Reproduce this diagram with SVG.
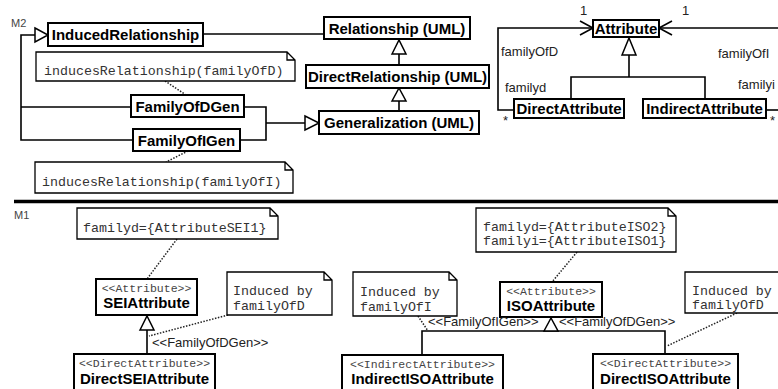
<svg xmlns="http://www.w3.org/2000/svg" width="778" height="389" viewBox="0 0 778 389">
  <style>
    .box { fill: #fff; stroke: #000; stroke-width: 2; }
    .note { fill: #fff; stroke: #000; stroke-width: 1.3; }
    .ln { fill: none; stroke: #000; stroke-width: 1.6; }
    .dot { fill: none; stroke: #222; stroke-width: 1.5; stroke-dasharray: 1.5 1.5; }
    .tri { fill: #fff; stroke: #000; stroke-width: 1.5; }
    .vee { fill: none; stroke: #000; stroke-width: 1.6; }
    .name { font-family: "Liberation Sans", Arial, sans-serif; font-weight: bold; font-size: 15px; fill: #000; }
    .lbl { font-family: "Liberation Sans", Arial, sans-serif; font-size: 13px; fill: #222; }
    .mono { font-family: "Liberation Mono", "Courier New", monospace; font-size: 13.3px; fill: #333; }
    .st { font-family: "Liberation Mono", "Courier New", monospace; font-size: 11.5px; fill: #444; }
    .lvl { font-family: "Liberation Sans", Arial, sans-serif; font-size: 11px; fill: #444; }
  </style>

  <!-- level labels and separator -->
  <text class="lvl" x="11" y="27">M2</text>
  <text class="lvl" x="14" y="219">M1</text>
  <line x1="14" y1="201.5" x2="778" y2="201.5" stroke="#000" stroke-width="3.5"/>

  <!-- connectors -->
  <g id="connectors">
    <!-- M2: induced relationship frame -->
    <path class="ln" d="M35 35 H21 V140 H133 M21 107 H131"/>
    <polygon class="tri" points="35,28 48,35 35,42"/>
    <path class="ln" d="M203 34 H323"/>
    <path class="ln" d="M244 107 H266 V140 H240 M266 123 H305"/>
    <polygon class="tri" points="305,116 319,123 305,130"/>
    <path class="ln" d="M399 110 V101 M399 65 V54"/>
    <polygon class="tri" points="392,101 399,88 406,101"/>
    <polygon class="tri" points="392,54 399,40 406,54"/>
    <path class="dot" d="M165 81 L186 95"/>
    <path class="dot" d="M188 151 L166 162"/>

    <!-- M2: attribute model -->
    <path class="ln" d="M514 110 H498 V28 H593"/>
    <path class="vee" d="M580 21 L593 28 L580 35"/>
    <path class="ln" d="M659 28 H778"/>
    <path class="vee" d="M672 21 L659 28 L672 35"/>
    <path class="ln" d="M766 110 H778"/>
    <path class="ln" d="M629 55 V77 M571 99 V77 H705 V99"/>
    <polygon class="tri" points="622,55 629,38 636,55"/>

    <!-- M1: SEI generalization -->
    <path class="ln" d="M147 354 V330"/>
    <polygon class="tri" points="140,330 147,316 154,330"/>
    <path class="dot" d="M177 239 L147 279"/>
    <path class="dot" d="M228 315 L149 336"/>

    <!-- M1: ISO generalizations -->
    <path class="ln" d="M422 355 V331 H665 V354 M551 331 V330"/>
    <polygon class="tri" points="544,331 551,318 558,331"/>
    <path class="dot" d="M577 252 L552 282"/>
    <path class="dot" d="M418 316 L428 331"/>
    <path class="dot" d="M737 313 L667 346"/>
  </g>

  <!-- M2 nodes -->
  <g id="InducedRelationship">
    <rect class="box" x="48" y="23" width="155" height="23"/>
    <text class="name" x="125.5" y="40" text-anchor="middle">InducedRelationship</text>
  </g>
  <g id="RelationshipUML">
    <rect class="box" x="324" y="17" width="146" height="22"/>
    <text class="name" x="397" y="34" text-anchor="middle">Relationship (UML)</text>
  </g>
  <g id="DirectRelationshipUML">
    <rect class="box" x="306" y="65" width="183" height="23"/>
    <text class="name" x="397.5" y="82" text-anchor="middle">DirectRelationship (UML)</text>
  </g>
  <g id="GeneralizationUML">
    <rect class="box" x="319" y="111" width="160" height="23"/>
    <text class="name" x="399" y="128" text-anchor="middle">Generalization (UML)</text>
  </g>
  <g id="FamilyOfDGen">
    <rect class="box" x="131" y="95" width="113" height="22"/>
    <text class="name" x="187.5" y="112" text-anchor="middle">FamilyOfDGen</text>
  </g>
  <g id="FamilyOfIGen">
    <rect class="box" x="133" y="129" width="107" height="22"/>
    <text class="name" x="186.5" y="146" text-anchor="middle">FamilyOfIGen</text>
  </g>
  <g id="noteFamilyOfD">
    <path class="note" d="M36 52 H287 L295 60 V81 H36 Z M287 52 V60 H295"/>
    <text class="mono" x="44" y="75">inducesRelationship(familyOfD)</text>
  </g>
  <g id="noteFamilyOfI">
    <path class="note" d="M35 162 H285 L293 170 V193 H35 Z M285 162 V170 H293"/>
    <text class="mono" x="42" y="186">inducesRelationship(familyOfI)</text>
  </g>

  <g id="Attribute">
    <rect class="box" x="593" y="20" width="66" height="17"/>
    <text class="name" x="626" y="34" text-anchor="middle">Attribute</text>
  </g>
  <g id="DirectAttribute">
    <rect class="box" x="514" y="99" width="110" height="19"/>
    <text class="name" x="569" y="114" text-anchor="middle">DirectAttribute</text>
  </g>
  <g id="IndirectAttribute">
    <rect class="box" x="643" y="99" width="123" height="19"/>
    <text class="name" x="704.5" y="114" text-anchor="middle">IndirectAttribute</text>
  </g>
  <g id="associationLabels">
    <text class="lbl" x="580" y="15" font-size="12">1</text>
    <text class="lbl" x="682" y="15" font-size="12">1</text>
    <text class="lbl" x="501" y="56">familyOfD</text>
    <text class="lbl" x="505" y="92">familyd</text>
    <text class="lbl" x="503" y="125" font-size="11">*</text>
    <text class="lbl" x="718" y="58">familyOfI</text>
    <text class="lbl" x="738" y="89">familyi</text>
    <text class="lbl" x="770" y="125" font-size="11">*</text>
  </g>

  <!-- M1 nodes -->
  <g id="noteSEI">
    <path class="note" d="M77 208 H270 L278 216 V239 H77 Z M270 208 V216 H278"/>
    <text class="mono" x="83" y="232">familyd={AttributeSEI1}</text>
  </g>
  <g id="SEIAttribute">
    <rect class="box" x="96" y="279" width="101" height="36"/>
    <text class="st" x="146.5" y="292" text-anchor="middle">&lt;&lt;Attribute&gt;&gt;</text>
    <text class="name" x="146.5" y="308" text-anchor="middle">SEIAttribute</text>
  </g>
  <g id="noteInducedD1">
    <path class="note" d="M227 272 H324 L332 280 V315 H227 Z M324 272 V280 H332"/>
    <text class="mono" x="233" y="295">Induced by</text>
    <text class="mono" x="233" y="310">familyOfD</text>
  </g>
  <text class="lbl" x="152" y="347">&lt;&lt;FamilyOfDGen&gt;&gt;</text>
  <g id="DirectSEIAttribute">
    <rect class="box" x="74" y="354" width="141" height="40"/>
    <text class="st" x="144.5" y="367" text-anchor="middle">&lt;&lt;DirectAttribute&gt;&gt;</text>
    <text class="name" x="144.5" y="384" text-anchor="middle">DirectSEIAttribute</text>
  </g>

  <g id="noteInducedI">
    <path class="note" d="M353 272 H449 L457 280 V316 H353 Z M449 272 V280 H457"/>
    <text class="mono" x="360" y="296">Induced by</text>
    <text class="mono" x="360" y="311">familyOfI</text>
  </g>
  <g id="noteISO">
    <path class="note" d="M476 208 H668 L676 216 V252 H476 Z M668 208 V216 H676"/>
    <text class="mono" x="483" y="231">familyd={AttributeISO2}</text>
    <text class="mono" x="483" y="245">familyi={AttributeISO1}</text>
  </g>
  <g id="ISOAttribute">
    <rect class="box" x="500" y="282" width="102" height="35"/>
    <text class="st" x="551" y="295" text-anchor="middle">&lt;&lt;Attribute&gt;&gt;</text>
    <text class="name" x="551" y="311" text-anchor="middle">ISOAttribute</text>
  </g>
  <g id="noteInducedD2">
    <path class="note" d="M685 272 H780 V313 H685 Z"/>
    <text class="mono" x="692" y="295">Induced by</text>
    <text class="mono" x="692" y="309">familyOfD</text>
  </g>
  <text class="lbl" x="428" y="326" font-size="12.5">&lt;&lt;FamilyOfIGen&gt;&gt;</text>
  <text class="lbl" x="559" y="326" font-size="12.5">&lt;&lt;FamilyOfDGen&gt;&gt;</text>
  <g id="IndirectISOAttribute">
    <rect class="box" x="342" y="355" width="161" height="40"/>
    <text class="st" x="422.5" y="368" text-anchor="middle">&lt;&lt;IndirectAttribute&gt;&gt;</text>
    <text class="name" x="422.5" y="384" text-anchor="middle">IndirectISOAttribute</text>
  </g>
  <g id="DirectISOAttribute">
    <rect class="box" x="593" y="354" width="145" height="40"/>
    <text class="st" x="665.5" y="367" text-anchor="middle">&lt;&lt;DirectAttribute&gt;&gt;</text>
    <text class="name" x="665.5" y="384" text-anchor="middle">DirectISOAttribute</text>
  </g>
</svg>
